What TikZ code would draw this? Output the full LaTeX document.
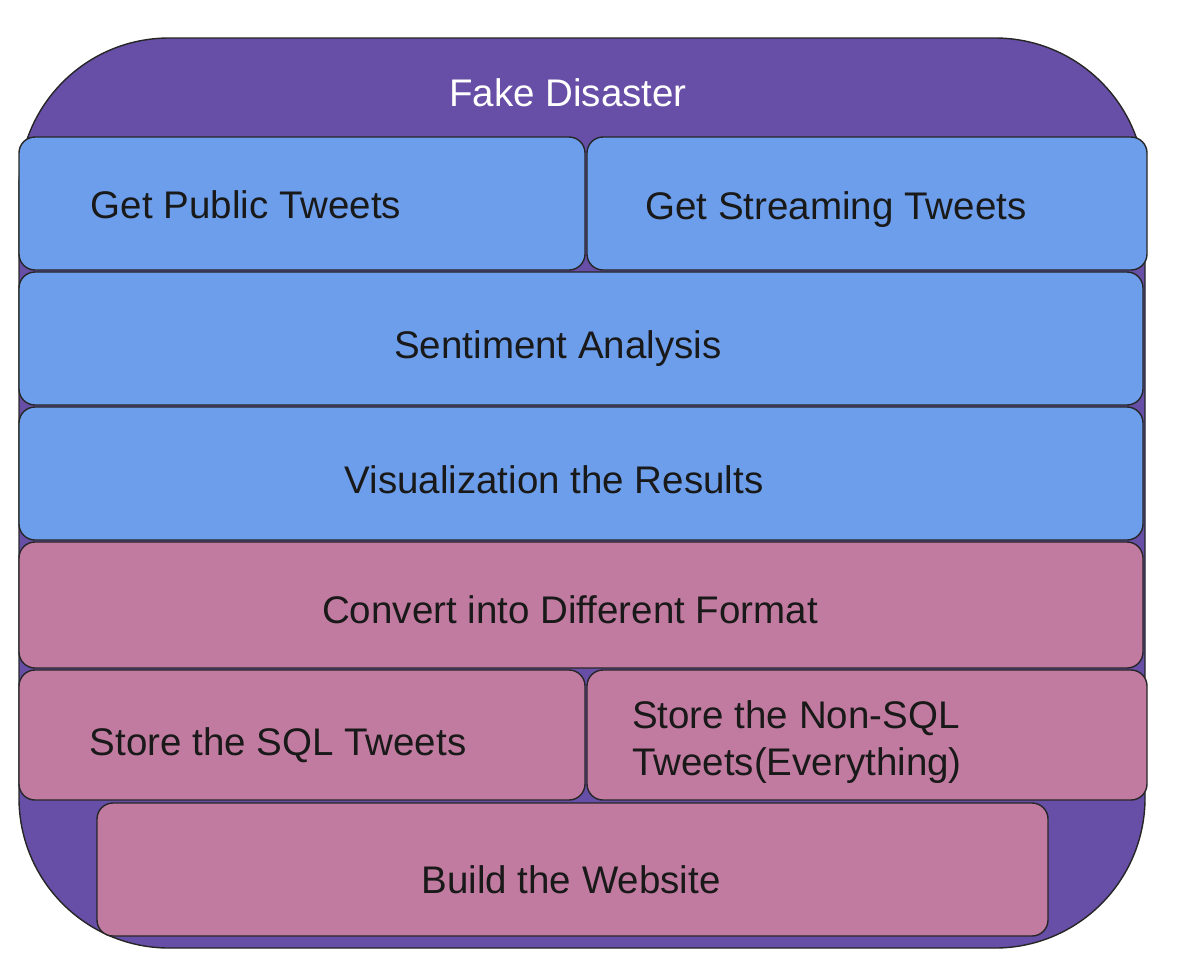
\documentclass[tikz,border=0pt]{standalone}
\usepackage{fontspec}
\setmainfont{Liberation Sans}
\usepackage{xcolor}
\definecolor{layerpurple}{HTML}{674EA7}
\definecolor{layerblue}{HTML}{6D9EEB}
\definecolor{layerpink}{HTML}{C27BA0}
\tikzset{
	layer/.style={draw=black!85, line width=1.4pt, rounded corners=16pt},
	label/.style={font=\fontsize{38.5}{45}\selectfont, text=black!90, inner sep=0pt}
}

\begin{document}
\begin{tikzpicture}[x=1pt, y=-1pt]
		\useasboundingbox (0,0) rectangle (1200,978);
		
		% outer frame
		\draw [layer, fill=layerpurple, rounded corners=150pt] (19,38) rectangle (1145,948);
		\node [label, text=white] (fake) at (568,93) {Fake Disaster};
		
		% twitter part
		\draw [layer, fill=layerblue] (19,137) rectangle (585,270);
		\draw [layer, fill=layerblue] (587,137) rectangle (1147,270);
		\draw [layer, fill=layerblue] (19,272) rectangle (1143,405);
		\draw [layer, fill=layerblue] (19,407) rectangle (1143,540);
		
		\node [label] (public) at (246,205) {Get Public Tweets};
		\node [label] (stream) at (836,210) {Get Streaming Tweets};
		\node [label] (senti) at (558,349) {Sentiment Analysis};
		\node [label] (visual) at (554,480) {Visualization the Results};
		
		% storage part
		\draw [layer, fill=layerpink] (19,542) rectangle (1143,668);
		\draw [layer, fill=layerpink] (19,670) rectangle (585,800);
		\draw [layer, fill=layerpink] (587,670) rectangle (1147,800);
		\draw [layer, fill=layerpink] (97,803) rectangle (1048,936);
		
		\node [label] (convert) at (570,610) {Convert into Different Format};
		\node [label] (sql) at (278,745) {Store the SQL Tweets};
		\node [label, align=left, anchor=west, font=\fontsize{38.5}{47}\selectfont] (nosql) at (632,742) {Store the Non-SQL\\Tweets(Everything)};
		\node [label] (web) at (571,880) {Build the Website};
	\end{tikzpicture}
\end{document}
